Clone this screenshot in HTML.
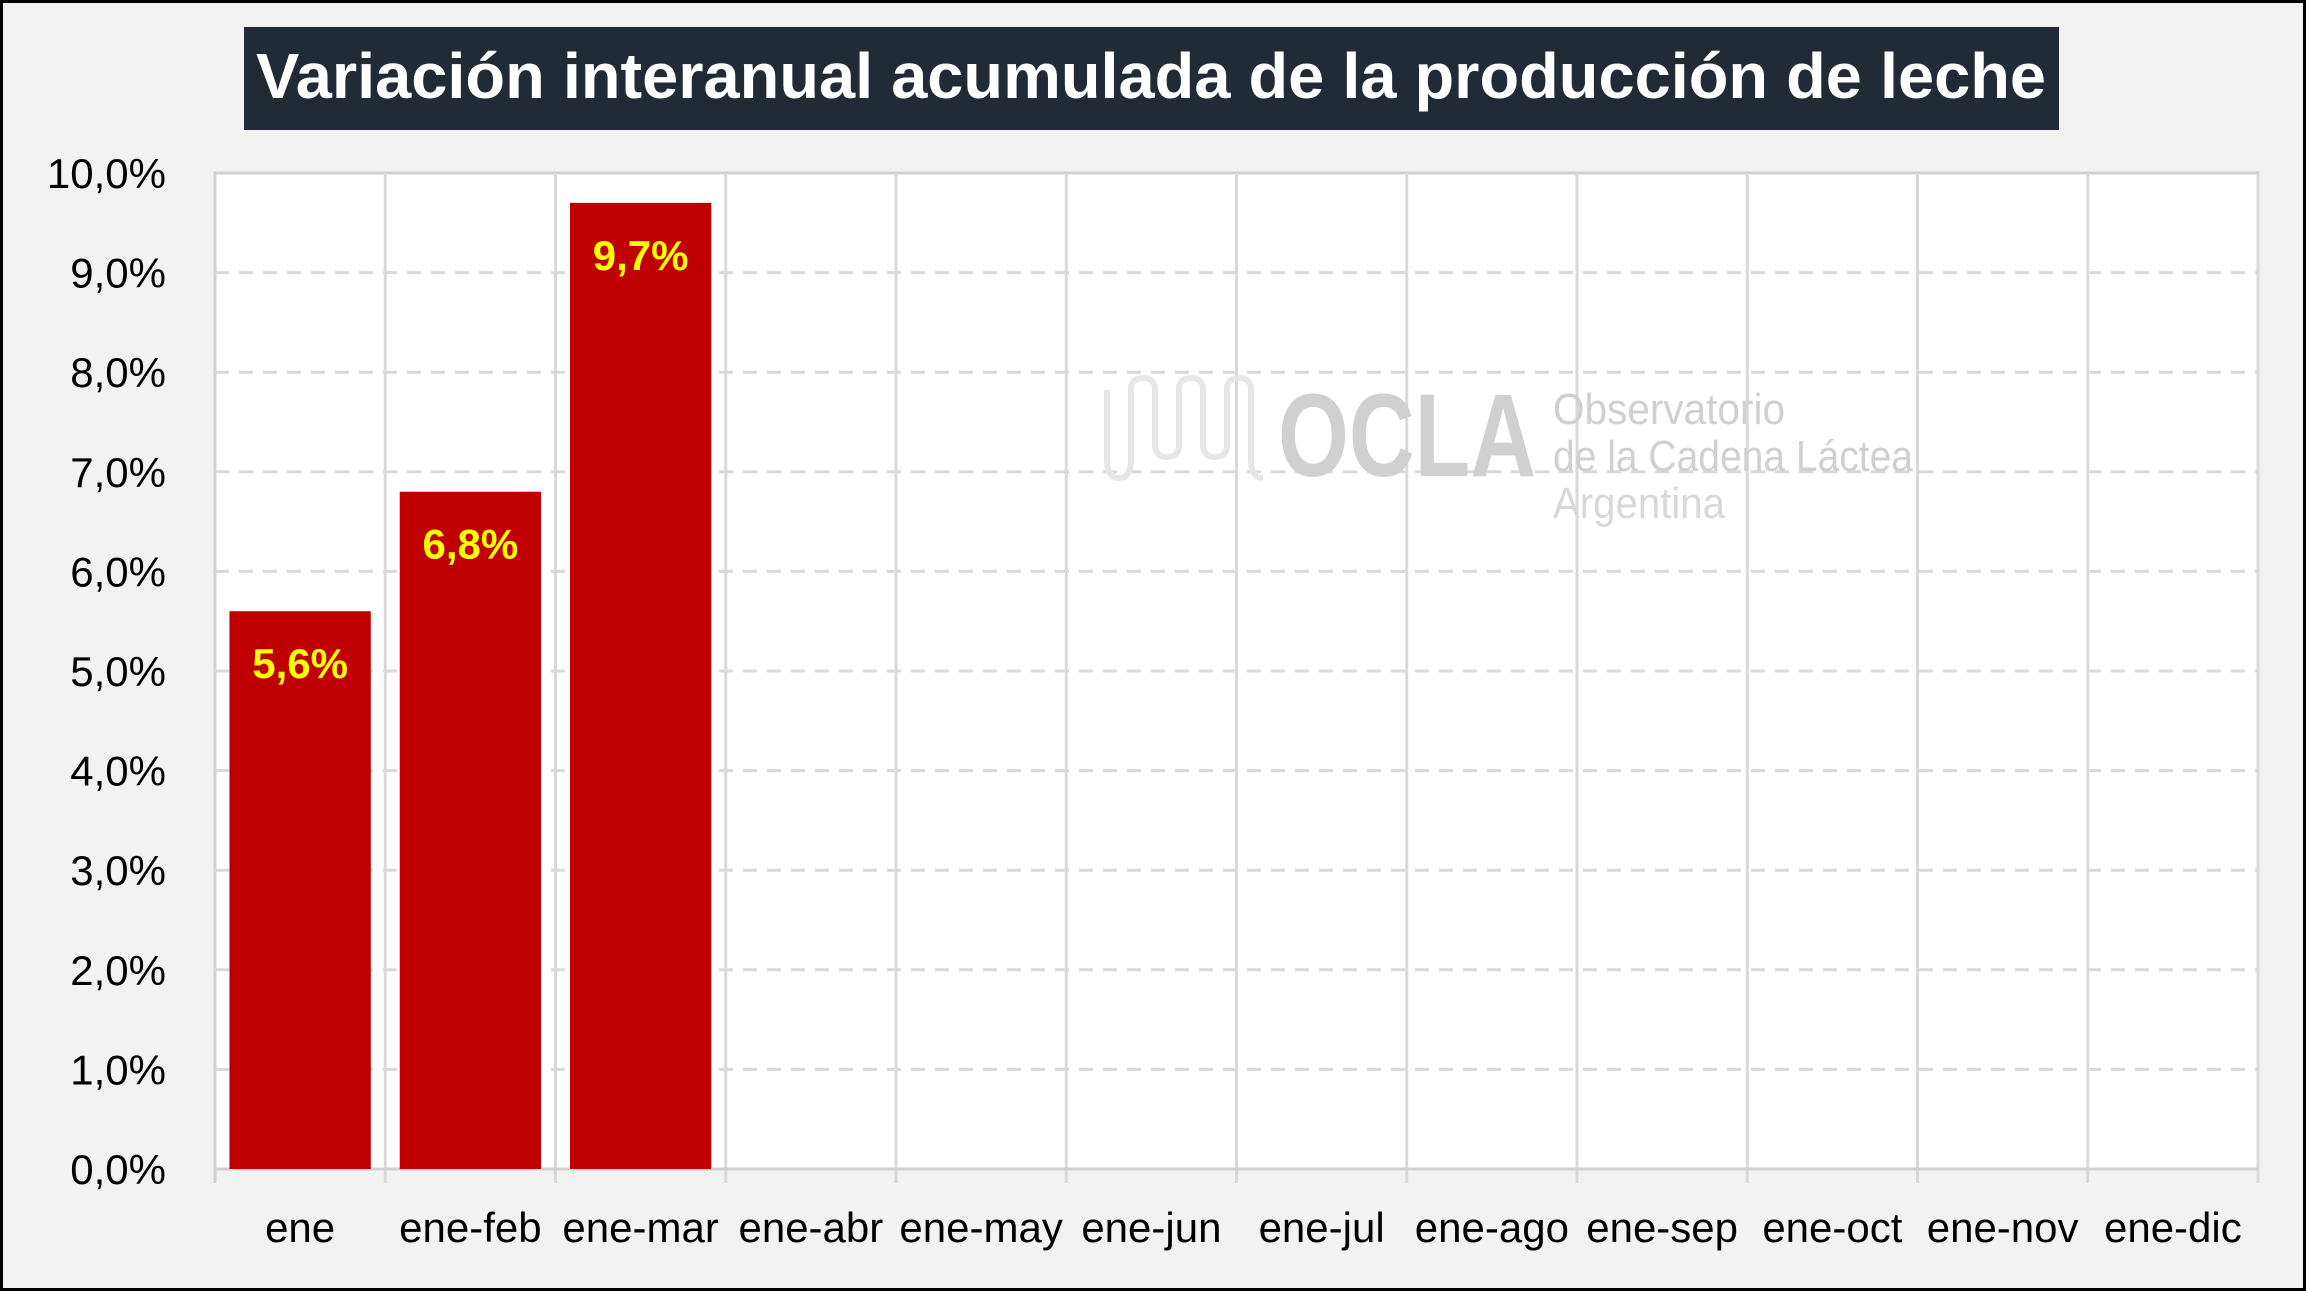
<!DOCTYPE html>
<html><head><meta charset="utf-8"><style>
html,body{margin:0;padding:0;background:#f2f2f2;}
svg{display:block;}
text{font-family:"Liberation Sans",sans-serif;}
</style></head><body>
<svg id="chart" width="2306" height="1291" viewBox="0 0 2306 1291" xmlns="http://www.w3.org/2000/svg">
<rect x="1.5" y="1.5" width="2303" height="1288" fill="#f2f2f2" stroke="#000" stroke-width="3"/>
<rect x="244" y="27" width="1815" height="103" fill="#222a35"/>
<text x="1151" y="98" text-anchor="middle" font-size="64" font-weight="bold" fill="#fff" textLength="1790" lengthAdjust="spacingAndGlyphs">Variación interanual acumulada de la producción de leche</text>
<rect x="215" y="173" width="2043" height="996" fill="#fff" stroke="#d0d0d0" stroke-width="3"/>
<g id="grid"></g>
<g id="watermark" fill="none">
<path d="M1107 390 v70 q0 18 12 18 q12 0 12 -18 v-70 q0 -12 12 -12 q12 0 12 12 v55 q0 12 12 12 q12 0 12 -12 v-55 q0 -12 12 -12 q12 0 12 12 v55 q0 12 12 12 q12 0 12 -12 v-55 q0 -12 12 -12 q12 0 12 12 v70 q0 18 12 18" stroke="#e6e6e6" stroke-width="6"/>
<text x="1278" y="476" font-size="118" font-weight="bold" fill="#d0d0d0" textLength="258" lengthAdjust="spacingAndGlyphs">OCLA</text>
<text x="1553" y="424" font-size="44" fill="#d0d0d0" textLength="232" lengthAdjust="spacingAndGlyphs">Observatorio</text>
<text x="1553" y="471" font-size="44" fill="#d0d0d0" textLength="360" lengthAdjust="spacingAndGlyphs">de la Cadena Láctea</text>
<text x="1553" y="518" font-size="44" fill="#d8d8d8" textLength="172" lengthAdjust="spacingAndGlyphs">Argentina</text>
</g>
<g id="bars"></g>
<g id="labels"></g>
</svg>
<script>
const categories = ["ene","ene-feb","ene-mar","ene-abr","ene-may","ene-jun","ene-jul","ene-ago","ene-sep","ene-oct","ene-nov","ene-dic"];
const values = [5.6, 6.8, 9.7, null, null, null, null, null, null, null, null, null];
const valueLabels = ["5,6%","6,8%","9,7%"];
const yTicks = [0,1,2,3,4,5,6,7,8,9,10];
const yTickLabels = ["0,0%","1,0%","2,0%","3,0%","4,0%","5,0%","6,0%","7,0%","8,0%","9,0%","10,0%"];

const NS = "http://www.w3.org/2000/svg";
const X0 = 215, X1 = 2258, Y0 = 1169, Y1 = 173, YMAX = 10;
const catW = (X1 - X0) / categories.length;
function y(v){ return Y0 - (v / YMAX) * (Y0 - Y1); }
function xc(i){ return X0 + catW * (i + 0.5); }
function mk(tag, attrs, parent){
  const e = document.createElementNS(NS, tag);
  for (const k in attrs) e.setAttribute(k, attrs[k]);
  parent.appendChild(e);
  return e;
}
const grid = document.getElementById('grid');
const bars = document.getElementById('bars');
const labels = document.getElementById('labels');

yTicks.forEach((t, i) => {
  if (t > 0 && t < YMAX) {
    const l = mk('line', {x1: X0, x2: X1, y1: y(t), y2: y(t), stroke: '#d9d9d9', 'stroke-width': 3, 'stroke-dasharray': '14 10'}, grid);
    
    
  }
  const tx = mk('text', {x: 166, y: y(t) + 15, 'text-anchor': 'end', 'font-size': 42, fill: '#000'}, labels);
  tx.textContent = yTickLabels[i];
  
  
});
for (let i = 1; i <= categories.length; i++) {
  const x = X0 + catW * i;
  const v = mk('line', {x1: x, x2: x, y1: Y1, y2: Y0 + 14, stroke: '#d9d9d9', 'stroke-width': 3}, grid);
  
  
}
mk('line', {x1: X0, x2: X0, y1: Y0, y2: Y0 + 14, stroke: '#d0d0d0', 'stroke-width': 3}, grid);
mk('line', {x1: X0, x2: X1, y1: Y0, y2: Y0, stroke: '#d0d0d0', 'stroke-width': 3}, grid);

categories.forEach((c, i) => {
  const tx = mk('text', {x: xc(i), y: 1242, 'text-anchor': 'middle', 'font-size': 42, fill: '#000'}, labels);
  tx.textContent = c;
  
  
  const v = values[i];
  if (v == null) return;
  const bw = catW * 0.83;
  const r = mk('rect', {x: xc(i) - bw / 2, y: y(v), width: bw, height: Y0 - y(v), fill: '#c00000'}, bars);
  
  
  const lb = mk('text', {x: xc(i), y: y(v) + 67, 'text-anchor': 'middle', 'font-size': 42, 'font-weight': 'bold', fill: '#ffff00'}, labels);
  lb.textContent = valueLabels[i];
  
  
});
</script>
</body></html>
